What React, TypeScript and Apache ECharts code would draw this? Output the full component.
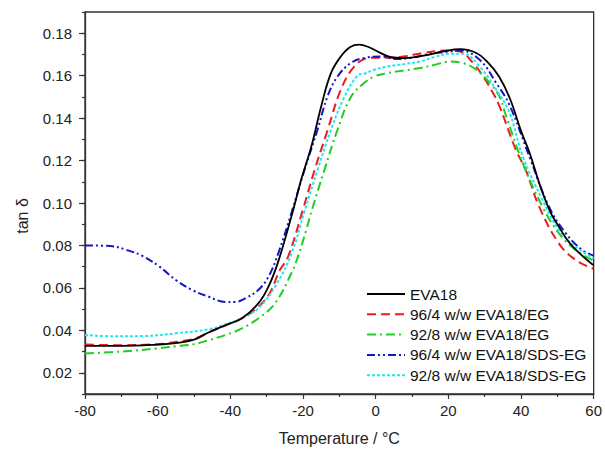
import React, { useEffect, useRef } from "react";
import * as echarts from "echarts";

const seriesNames = [
  "EVA18",
  "96/4 w/w EVA18/EG",
  "92/8 w/w EVA18/EG",
  "96/4 w/w EVA18/SDS-EG",
  "92/8 w/w EVA18/SDS-EG",
];

const eva18T = [-80, -70, -60, -55, -50, -46, -41.4, -36.8, -32.3, -29.5, -26.8, -23.2, -20.5, -17.7, -15, -12.3, -9.6, -7, -4.5, -2, 1, 4, 8, 13.2, 18.6, 23.2, 27.7, 31, 34, 37, 40, 42.5, 45, 48, 50.4, 53, 56, 60];
const eva18V = [0.0327, 0.0327, 0.0333, 0.034, 0.0356, 0.039, 0.0424, 0.0457, 0.0527, 0.0606, 0.0725, 0.0936, 0.1109, 0.1266, 0.1455, 0.1612, 0.169, 0.1735, 0.1746, 0.1735, 0.171, 0.1688, 0.1683, 0.1694, 0.1714, 0.1725, 0.1707, 0.166, 0.1595, 0.149, 0.134, 0.123, 0.1095, 0.096, 0.0889, 0.082, 0.0765, 0.0706];

const eg4T = [-80, -70, -60, -55, -50, -46, -41, -37, -32.3, -29, -26.5, -24.1, -20, -16.8, -13.2, -9.6, -5.9, -2, 1, 5, 7.7, 13.2, 19.5, 23.2, 26.8, 29.6, 32.3, 34.1, 38.6, 41.3, 45, 50.4, 55, 60];
const eg4V = [0.0333, 0.033, 0.0335, 0.0345, 0.036, 0.039, 0.0425, 0.0455, 0.051, 0.058, 0.068, 0.0747, 0.097, 0.1156, 0.1345, 0.1533, 0.1643, 0.1683, 0.1685, 0.1685, 0.169, 0.1707, 0.1719, 0.1714, 0.166, 0.1596, 0.1518, 0.1455, 0.125, 0.1156, 0.0983, 0.081, 0.0732, 0.069];

const eg8T = [-80, -70, -60, -55, -50, -45.9, -41, -36.8, -32, -27.7, -23.2, -21.4, -19.1, -17.5, -14.1, -10.5, -6.8, -3.2, -0.4, 3.2, 8, 12.3, 16, 20.5, 24.1, 27.7, 31.4, 34.1, 35.5, 40.5, 45.9, 50.4, 55, 60];
const eg8V = [0.0291, 0.03, 0.0315, 0.0325, 0.0335, 0.0354, 0.038, 0.0409, 0.046, 0.0527, 0.0669, 0.0747, 0.0873, 0.097, 0.1156, 0.1345, 0.15, 0.1565, 0.1596, 0.1612, 0.1625, 0.1636, 0.165, 0.1667, 0.1659, 0.1628, 0.1565, 0.1502, 0.143, 0.1188, 0.0983, 0.0858, 0.0779, 0.0728];

const sds4T = [-80, -73, -68.6, -64.1, -59.5, -55, -50.5, -45.9, -41.4, -38.7, -35.9, -32.3, -29.5, -26.8, -23.2, -19.6, -16, -13.3, -10.5, -6.8, -3.2, 1.4, 5.9, 10, 15, 20.5, 23.2, 28.6, 33.2, 36.8, 42.3, 47.7, 52.3, 56.8, 60];
const sds4V = [0.08, 0.0797, 0.0779, 0.075, 0.07, 0.0637, 0.059, 0.0558, 0.0534, 0.0534, 0.0551, 0.059, 0.0653, 0.0763, 0.0952, 0.1156, 0.1345, 0.15, 0.1596, 0.166, 0.1683, 0.169, 0.1678, 0.1685, 0.1703, 0.1714, 0.1719, 0.1675, 0.1565, 0.1463, 0.1219, 0.0983, 0.0858, 0.0779, 0.0752];

const sds8T = [-80, -72, -64, -55, -46, -41.4, -36.8, -32.3, -27.7, -23.2, -19.5, -16, -12.3, -8.6, -5, -3, -0.4, 3.2, 8, 12.3, 16.5, 20.5, 24.1, 28.6, 33.2, 36.8, 40.5, 45.9, 50.4, 55, 60];
const sds8V = [0.0378, 0.0372, 0.0373, 0.0386, 0.0405, 0.0428, 0.0457, 0.0504, 0.0606, 0.076, 0.0965, 0.1156, 0.1345, 0.15, 0.16, 0.161, 0.1628, 0.1643, 0.1655, 0.1667, 0.169, 0.1703, 0.1703, 0.1643, 0.1533, 0.1428, 0.1219, 0.1015, 0.0873, 0.0794, 0.074];

const yMajorTicks = [0.02, 0.04, 0.06, 0.08, 0.1, 0.12, 0.14, 0.16, 0.18];

const colors = ["#000000", "#ee1c1c", "#22cc22", "#1414c8", "#22e6ee"];
const dashes: any[] = ["solid", [9, 5], [9, 4, 2, 4], [8, 3, 2, 3, 2, 3], [3, 2]];
const widths = [1.8, 2, 2, 2, 2];

const FONT = "'Liberation Sans', Arial, sans-serif";

function pairs(t: number[], v: number[]) {
  return t.map((x, i) => [x, v[i]]);
}

export default function App() {
  const ref = useRef<HTMLDivElement>(null);
  useEffect(() => {
    if (!ref.current) return;
    const chart = echarts.init(ref.current, null, { renderer: "svg" });
    const datasets = [
      pairs(eva18T, eva18V),
      pairs(eg4T, eg4V),
      pairs(eg8T, eg8V),
      pairs(sds4T, sds4V),
      pairs(sds8T, sds8V),
    ];
    chart.setOption({
      animation: false,
      backgroundColor: "#ffffff",
      grid: {
        left: 85,
        right: 7,
        top: 12,
        bottom: 61,
        show: true,
        borderColor: "#333",
        borderWidth: 1.3,
        backgroundColor: "transparent",
      },
      legend: {
        orient: "vertical",
        left: 361,
        top: 281,
        itemWidth: 38,
        itemHeight: 12,
        itemGap: 4.3,
        data: seriesNames,
        itemStyle: { opacity: 0 },
        textStyle: { fontFamily: FONT, fontSize: 15.5, color: "#111", lineHeight: 16 },
      },
      graphic: [
        {
          type: "text",
          x: 22,
          y: 216,
          rotation: Math.PI / 2,
          style: {
            text: "tan δ",
            fontFamily: FONT,
            fontSize: 16,
            fill: "#222",
            align: "center",
            verticalAlign: "middle",
          },
        },
      ],
      xAxis: {
        type: "value",
        min: -80,
        max: 60,
        interval: 20,
        name: "Temperature / °C",
        nameLocation: "middle",
        nameGap: 36,
        nameTextStyle: { fontFamily: FONT, fontSize: 16, color: "#222" },
        axisLine: { onZero: false, lineStyle: { color: "#333", width: 1.3 } },
        axisTick: { length: 5, lineStyle: { color: "#333", width: 1.2 } },
        minorTick: { show: true, splitNumber: 2, length: 3, lineStyle: { color: "#333", width: 1.2 } },
        axisLabel: { fontFamily: FONT, fontSize: 15, color: "#222", margin: 9 },
        splitLine: { show: false },
      },
      yAxis: [
        {
          type: "value",
          min: 0.01,
          max: 0.19,
          interval: 0.01,
          position: "left",
          axisLine: { show: true, onZero: false, lineStyle: { color: "#333", width: 1.3 } },
          axisTick: { length: 3, lineStyle: { color: "#333", width: 1.2 } },
          axisLabel: {
            fontFamily: FONT,
            fontSize: 15,
            color: "#222",
            margin: 13,
            formatter: (v: number) => {
              const k = Math.round(v * 100);
              return k % 2 === 0 ? (k / 100).toFixed(2) : "";
            },
          },
          splitLine: { show: false },
        },
        {
          type: "value",
          min: 0.01,
          max: 0.19,
          interval: 0.01,
          position: "left",
          offset: 0,
          axisLine: { show: false, onZero: false },
          axisTick: { show: true, length: 6, customValues: yMajorTicks, lineStyle: { color: "#333", width: 1.2 } },
          axisLabel: { show: false },
          splitLine: { show: false },
        },
      ],
      series: seriesNames.map((name, i) => ({
        name,
        type: "line",
        yAxisIndex: 0,
        data: datasets[i],
        smooth: 0.4,
        symbol: "none",
        color: colors[i],
        lineStyle: { color: colors[i], width: widths[i], type: dashes[i] },
        z: i === 0 ? 3 : 2,
      })),
    });
    return () => chart.dispose();
  }, []);
  return (
    <div
      ref={ref}
      style={{ position: "fixed", left: 0, top: 0, width: 605, height: 455 }}
    />
  );
}
